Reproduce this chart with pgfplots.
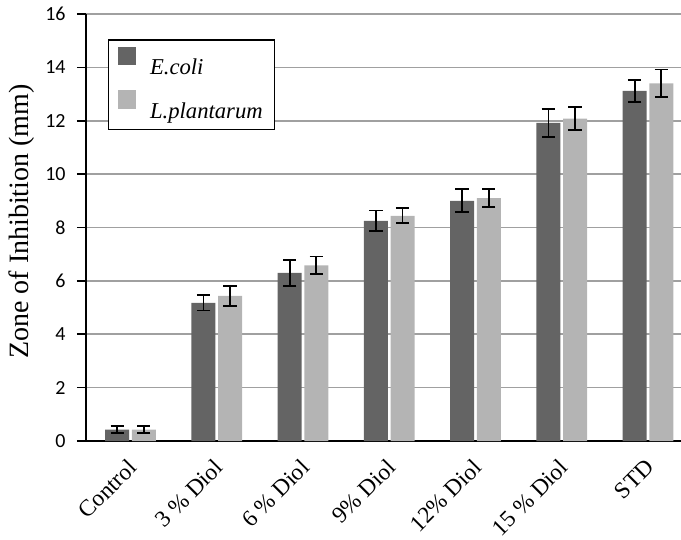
\documentclass[border=0pt]{standalone}
\usepackage{fontspec}
\setmainfont{Liberation Serif}
\newfontfamily\carlito{Carlito}
\usepackage{pgfplots}
\pgfplotsset{compat=1.18}
\definecolor{darkbar}{RGB}{100,100,100}
\definecolor{lightbar}{RGB}{180,180,180}
\definecolor{gridc}{RGB}{160,160,160}
\begin{document}
\begin{tikzpicture}
\begin{axis}[
  scale only axis,
  width=446.25pt, height=320.25pt,
  at={(0,0)}, anchor=south west,
  xmin=-0.516, xmax=6.383,
  ymin=0, ymax=16,
  ytick={0,2,...,16},
  xtick={0,1,2,3,4,5,6},
  xticklabels={Control,3 \% Diol,6 \% Diol,9\% Diol,12\% Diol,15 \% Diol,STD},
  axis x line=bottom, axis y line=left,
  axis line style={-, line width=1.4pt, black},
  ymajorgrids, major grid style={gridc, line width=1.3pt},
  y tick style={black, line width=1.3pt},
  major tick length=6.75pt, tick align=outside,
  x tick style={draw=none},
  /pgf/number format/assume math mode=true,
  yticklabel style={font=\carlito\fontsize{15}{17}\selectfont, xshift=-5pt},
  xticklabel style={font=\fontsize{17.5}{21}\selectfont, rotate=45, anchor=north east, inner sep=1pt, xshift=-5pt, yshift=-1pt},
  ylabel={Zone of Inhibition (mm)},
  every axis y label/.style={at={(-48pt,0.5*320.25pt+4.5pt)}, rotate=90, anchor=center, font=\fontsize{21}{24}\selectfont},
  ybar=2pt, bar width=0.278,
  legend style={at={(0.037,0.941)}, anchor=north west, draw=black, line width=1pt,
    font=\itshape\fontsize{17}{20}\selectfont, row sep=8pt, column sep=8.5pt,
    inner xsep=7pt, inner ysep=5pt,
    cells={anchor=west}},
  legend image code/.code={\fill[#1] (0pt,2pt) rectangle (13.5pt,16pt);},
  error bars/error bar style={line width=1.3pt, black},
  error bars/error mark options={rotate=90, mark size=5pt, line width=1.3pt, black},
]
\addplot[fill=darkbar, draw=none, error bars/.cd, y dir=both, y explicit]
  coordinates {
  (0,0.43) +- (0,0.14)
  (1,5.18) +- (0,0.29)
  (2,6.30) +- (0,0.48)
  (3,8.25) +- (0,0.39)
  (4,9.00) +- (0,0.43)
  (5,11.92) +- (0,0.52)
  (6,13.12) +- (0,0.42)
  };
\addplot[fill=lightbar, draw=none, error bars/.cd, y dir=both, y explicit]
  coordinates {
  (0,0.43) +- (0,0.13)
  (1,5.44) +- (0,0.38)
  (2,6.58) +- (0,0.33)
  (3,8.44) +- (0,0.28)
  (4,9.10) +- (0,0.33)
  (5,12.08) +- (0,0.43)
  (6,13.40) +- (0,0.52)
  };
\legend{E.coli\hspace{6pt}, L.plantarum\hspace{6pt}}
\end{axis}
\pgfresetboundingbox
\path (-64.5pt,-73.5pt) rectangle (446.25pt,330.75pt);
\end{tikzpicture}
\end{document}
